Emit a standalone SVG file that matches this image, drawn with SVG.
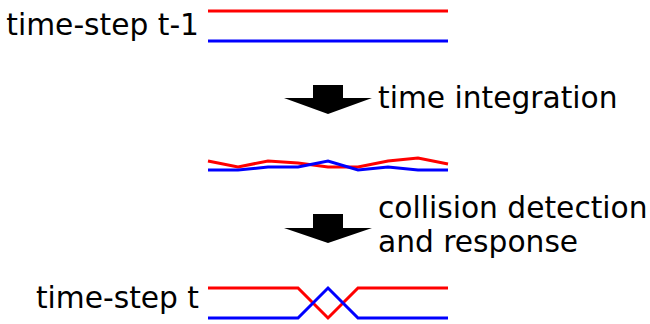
<svg xmlns="http://www.w3.org/2000/svg" width="650" height="324" viewBox="0 0 650 324">
<style>
text{font-family:"DejaVu Sans",sans-serif;font-size:29.7px;fill:#000}
.r{stroke:#ff0000;stroke-width:3;fill:none}
.b{stroke:#0000ff;stroke-width:3;fill:none}
.arrow{fill:#000}
</style>
<rect width="650" height="324" fill="#fff"/>
<g id="state-t-1">
<text x="199" y="35" text-anchor="end">time-step t-1</text>
<line class="r" x1="208" y1="11" x2="448" y2="11"/>
<line class="b" x1="208" y1="41" x2="448" y2="41"/>
</g>
<g id="state-mid">
<polyline class="r" points="208,161 238,167 268,161 298,163 328,167 358,167 388,161 418,158 448,164"/>
<polyline class="b" points="208,170 238,170 268,167 298,167 328,161 358,170 388,167 418,170 448,170"/>
</g>
<g id="state-t">
<text x="199" y="308" text-anchor="end">time-step t</text>
<polyline class="r" points="208,288 298,288 328,318 358,288 448,288"/>
<polyline class="b" points="208,318 298,318 328,288 358,318 448,318"/>
</g>
<g id="connectors">
<polygon class="arrow" points="313,85 343,85 343,98 372,98 328,114 284,98 313,98"/>
<text x="378" y="108">time integration</text>
<polygon class="arrow" points="313,214 343,214 343,228 372,228 328,243 284,228 313,228"/>
<text x="378" y="218">collision detection</text>
<text x="378" y="252">and response</text>
</g>
</svg>
